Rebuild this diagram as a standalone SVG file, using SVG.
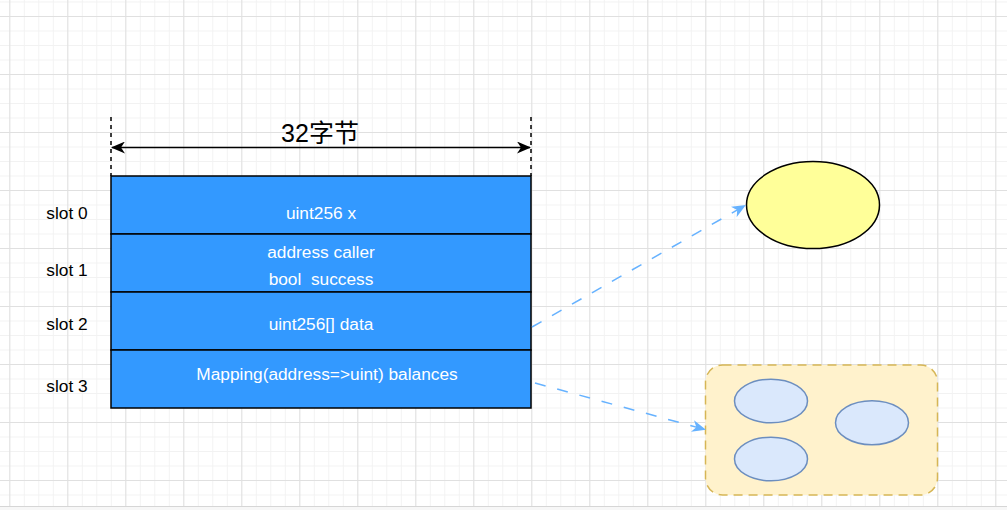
<svg xmlns="http://www.w3.org/2000/svg" width="1007" height="510" viewBox="0 0 1007 510">
<style>
.lbl{font-family:"Liberation Sans",Arial,sans-serif;font-size:17.3px;text-anchor:middle}
.w{fill:#ffffff}
.k{fill:#000000}
.slot{fill:#3399FF;stroke:#000;stroke-width:1.5}
.sm{fill:#DAE8FC;stroke:#6C8EBF;stroke-width:1.5}
.conn{fill:none;stroke:#66B2FF;stroke-width:1.5;stroke-dasharray:11 12}
</style>
<defs>
<pattern id="minor" x="9.3" y="16" width="14.5" height="14.5" patternUnits="userSpaceOnUse">
<path d="M0.5 0V14.5M0 0.5H14.5" fill="none" stroke="#f2f2f2" stroke-width="1"/>
</pattern>
<pattern id="major" x="9.3" y="16" width="58" height="58" patternUnits="userSpaceOnUse">
<path d="M0.5 0V58M0 0.5H58" fill="none" stroke="#e0e0e0" stroke-width="1"/>
</pattern>
<marker id="ab" viewBox="0 0 14 12" refX="13" refY="6" markerWidth="14" markerHeight="12" markerUnits="userSpaceOnUse" orient="auto">
<path d="M0 0L14 6L0 12L4 6Z" fill="#66B2FF"/>
</marker>
<marker id="ak" viewBox="0 0 14 12" refX="13" refY="6" markerWidth="14" markerHeight="12" markerUnits="userSpaceOnUse" orient="auto-start-reverse">
<path d="M0 0L14 6L0 12L4 6Z" fill="#000"/>
</marker>
</defs>
<rect x="0" y="0" width="1007" height="510" fill="#ffffff"/>
<rect x="0" y="0" width="1007" height="506" fill="url(#minor)"/>
<rect x="0" y="0" width="1007" height="506" fill="url(#major)"/>
<rect x="0" y="506" width="1007" height="4" fill="#f7f7f7"/>
<line x1="0" y1="506.5" x2="1007" y2="506.5" stroke="#d6d6d6" stroke-width="1"/>

<g id="dimension">
<line x1="111" y1="117" x2="111" y2="176" stroke="#000" stroke-width="1.5" stroke-dasharray="4 4"/>
<line x1="531" y1="117" x2="531" y2="176" stroke="#000" stroke-width="1.5" stroke-dasharray="4 4"/>
<line x1="112" y1="147.5" x2="530" y2="147.5" stroke="#000" stroke-width="1.5" marker-start="url(#ak)" marker-end="url(#ak)"/>
<text x="320" y="142" font-family="'Liberation Sans','Noto Sans CJK SC',sans-serif" font-size="25" text-anchor="middle" fill="#000">32字节</text>
</g>

<g id="slot0">
<rect class="slot" x="111" y="176" width="420" height="58"/>
<text class="lbl w" x="321" y="218.5">uint256 x</text>
<text class="lbl k" x="67" y="218.5">slot 0</text>
</g>
<g id="slot1">
<rect class="slot" x="111" y="234" width="420" height="58"/>
<text class="lbl w" x="321" y="258">address caller</text>
<text class="lbl w" x="321" y="285" xml:space="preserve" style="white-space:pre">bool  success</text>
<text class="lbl k" x="67" y="276">slot 1</text>
</g>
<g id="slot2">
<rect class="slot" x="111" y="292" width="420" height="58"/>
<text class="lbl w" x="321" y="330">uint256[] data</text>
<text class="lbl k" x="67" y="330">slot 2</text>
</g>
<g id="slot3">
<rect class="slot" x="111" y="350" width="420" height="58"/>
<text class="lbl w" x="327" y="380">Mapping(address=&gt;uint) balances</text>
<text class="lbl k" x="67" y="392">slot 3</text>
</g>

<g id="array-ellipse">
<ellipse cx="813" cy="205" rx="66.5" ry="43.5" fill="#FFFF99" stroke="#000" stroke-width="1.5"/>
</g>

<g id="mapping-container">
<rect x="705.5" y="365" width="232" height="130" rx="17" ry="17" fill="#FFF2CC" stroke="#D6B656" stroke-width="1.5" stroke-dasharray="9 6"/>
<ellipse class="sm" cx="771" cy="401" rx="36.5" ry="21.8"/>
<ellipse class="sm" cx="872" cy="422.7" rx="36.5" ry="22"/>
<ellipse class="sm" cx="771" cy="459" rx="36.5" ry="21.8"/>
</g>

<g id="connectors">
<path class="conn" d="M532 327L745 205.5" marker-end="url(#ab)"/>
<path class="conn" d="M535 383L705 429.5" marker-end="url(#ab)"/>
</g>
</svg>
